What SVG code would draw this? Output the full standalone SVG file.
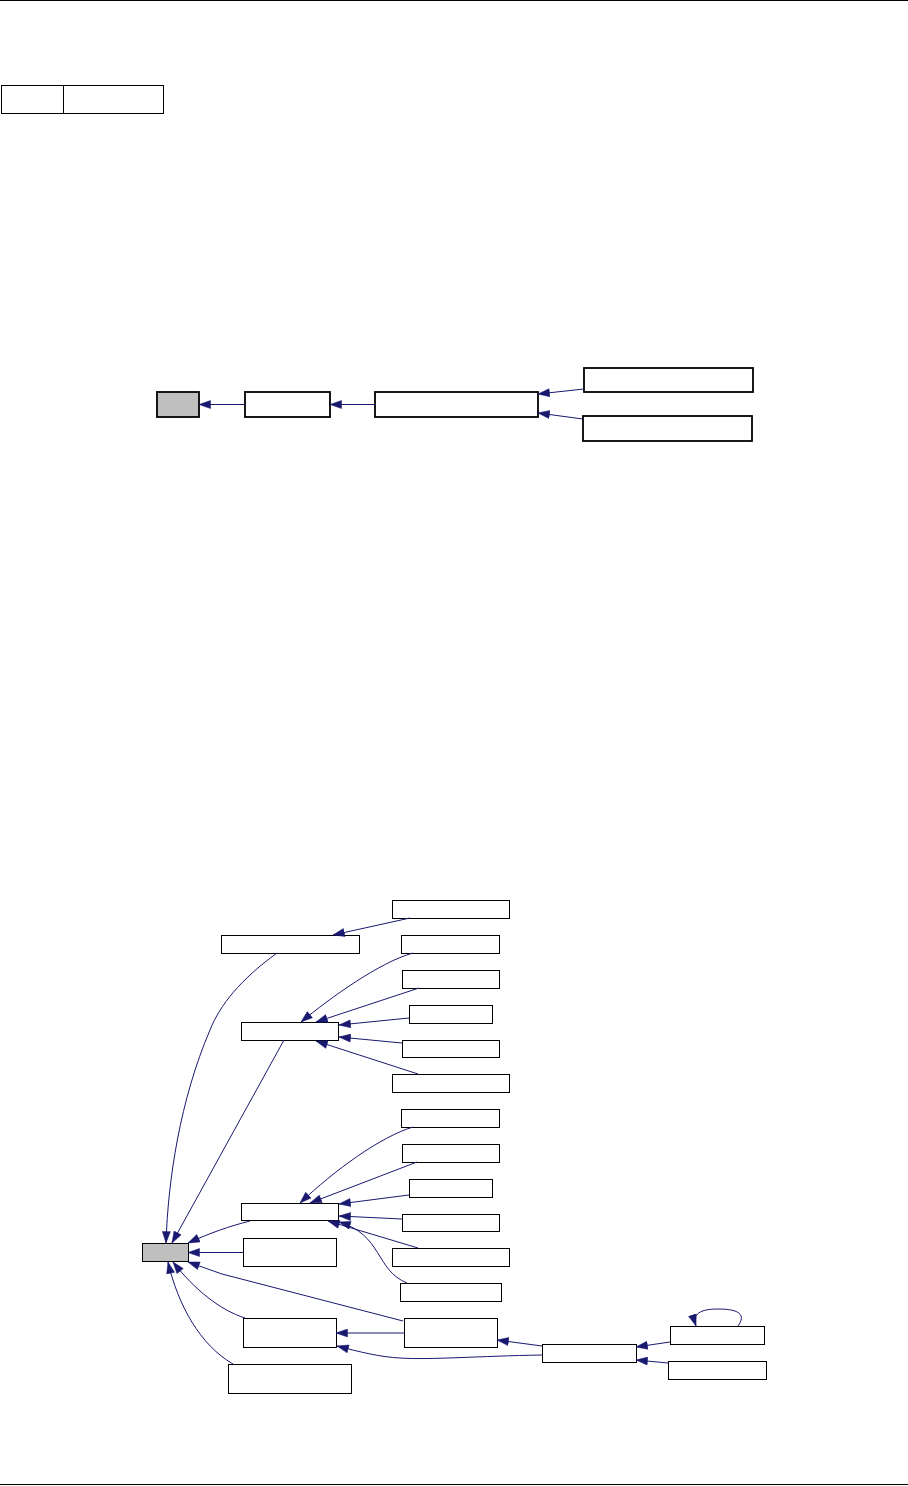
<svg xmlns="http://www.w3.org/2000/svg" width="908" height="1486" viewBox="0 0 908 1486">
<style>
.n{fill:#fff;stroke:#000;stroke-width:1}
.g{fill:#bfbfbf;stroke:#000;stroke-width:1}
.t{fill:#fff;stroke:#000;stroke-width:1.8}
.tg{fill:#bfbfbf;stroke:#000;stroke-width:1.8}
.e{fill:none;stroke:#191970;stroke-width:1;marker-end:url(#ah)}
.r{stroke:#000;stroke-width:1;shape-rendering:crispEdges}
</style>
<defs>
<marker id="ah" markerUnits="userSpaceOnUse" markerWidth="12" markerHeight="9" refX="12" refY="4.5" orient="auto">
<path d="M0.5,0.5 L12,4.5 L0.5,8.5 z" fill="#191970" stroke="#191970" stroke-width="0.5"/>
</marker>
</defs>
<line class="r" x1="0" y1="0.5" x2="908" y2="0.5"/>
<line class="r" x1="0" y1="1484.5" x2="908" y2="1484.5"/>
<g id="table">
<rect class="n" x="1.5" y="85.5" width="162" height="28"/>
<line class="r" x1="63.5" y1="85.5" x2="63.5" y2="113.5"/>
</g>
<g id="top-graph">
<g id="t0"><rect class="tg" x="157" y="392" width="42" height="25"/></g>
<g id="t1"><rect class="t" x="245" y="392" width="85" height="25"/></g>
<g id="t2"><rect class="t" x="375" y="392" width="163" height="25"/></g>
<g id="t3"><rect class="t" x="584" y="368" width="169" height="24"/></g>
<g id="t4"><rect class="t" x="583" y="416" width="169" height="25"/></g>
</g>
<g id="top-edges">
<path class="e" d="M245,404.5 L199,404.5"/>
<path class="e" d="M375,404.5 L330,404.5"/>
<path class="e" d="M584,389 L538,394"/>
<path class="e" d="M583,419 L538,413"/>
</g>
<g id="bottom-nodes">
<g id="gray"><rect class="g" x="142.5" y="1243.5" width="46" height="18"/></g>
<g id="nA"><rect class="n" x="392.5" y="900.5" width="117" height="18"/></g>
<g id="nB"><rect class="n" x="221.5" y="935.5" width="138" height="18"/></g>
<g id="nC"><rect class="n" x="401.5" y="935.5" width="98" height="18"/></g>
<g id="nD"><rect class="n" x="402.5" y="970.5" width="97" height="18"/></g>
<g id="nE"><rect class="n" x="409.5" y="1005.5" width="83" height="18"/></g>
<g id="nF"><rect class="n" x="402.5" y="1040.5" width="97" height="17"/></g>
<g id="nG"><rect class="n" x="392.5" y="1074.5" width="117" height="18"/></g>
<g id="nH"><rect class="n" x="241.5" y="1022.5" width="97" height="18"/></g>
<g id="nK1"><rect class="n" x="401.5" y="1109.5" width="98" height="18"/></g>
<g id="nK2"><rect class="n" x="402.5" y="1144.5" width="97" height="18"/></g>
<g id="nK3"><rect class="n" x="409.5" y="1179.5" width="83" height="18"/></g>
<g id="nK4"><rect class="n" x="402.5" y="1214.5" width="97" height="17"/></g>
<g id="nK5"><rect class="n" x="392.5" y="1248.5" width="117" height="18"/></g>
<g id="nK6"><rect class="n" x="400.5" y="1283.5" width="101" height="18"/></g>
<g id="nI"><rect class="n" x="241.5" y="1203.5" width="97" height="17"/></g>
<g id="nJ"><rect class="n" x="243.5" y="1238.5" width="93" height="28"/></g>
<g id="nL"><rect class="n" x="243.5" y="1318.5" width="93" height="29"/></g>
<g id="nM"><rect class="n" x="404.5" y="1318.5" width="93" height="29"/></g>
<g id="nN"><rect class="n" x="228.5" y="1364.5" width="123" height="29"/></g>
<g id="nO"><rect class="n" x="542.5" y="1344.5" width="94" height="18"/></g>
<g id="nP"><rect class="n" x="670.5" y="1326.5" width="94" height="18"/></g>
<g id="nQ"><rect class="n" x="668.5" y="1361.5" width="98" height="18"/></g>
</g>
<g id="bottom-edges">
<path class="e" d="M410,918 L333,935"/>
<path class="e" d="M277,953 C240,980 220,1005 210,1030 C180,1100 168,1180 166,1243"/>
<path class="e" d="M284,1040 L172,1243"/>
<path class="e" d="M413,953 C380,962 330,998 301,1022"/>
<path class="e" d="M419,988 L316,1022"/>
<path class="e" d="M409,1018 L339,1025"/>
<path class="e" d="M402,1043 L339,1037"/>
<path class="e" d="M418,1074 L316,1041"/>
<path class="e" d="M413,1127 C380,1137 335,1170 300,1203"/>
<path class="e" d="M417,1162 L310,1203"/>
<path class="e" d="M409,1195 L339,1204"/>
<path class="e" d="M402,1219 L339,1216"/>
<path class="e" d="M418,1248 L328,1221"/>
<path class="e" d="M407,1283 C375,1270 383,1235 339,1222"/>
<path class="e" d="M250,1221 C230,1226 210,1233 188,1243"/>
<path class="e" d="M243,1252.5 L188,1252.5"/>
<path class="e" d="M403,1321 L222,1274 L188,1262"/>
<path class="e" d="M245,1318 C220,1310 195,1290 173,1262"/>
<path class="e" d="M233,1364 C200,1345 178,1305 168,1262"/>
<path class="e" d="M404,1333 L336,1333"/>
<path class="e" d="M542,1355 C480,1356 430,1360 400,1358 C380,1357 360,1352 337,1346"/>
<path class="e" d="M542,1346 L497,1340"/>
<path class="e" d="M670,1342 L636,1347"/>
<path class="e" d="M668,1363 L636,1360"/>
<path class="e" d="M738,1326 C746,1315 740,1309 718,1309 C700,1309 692,1314 696,1326"/>
</g>
</svg>
